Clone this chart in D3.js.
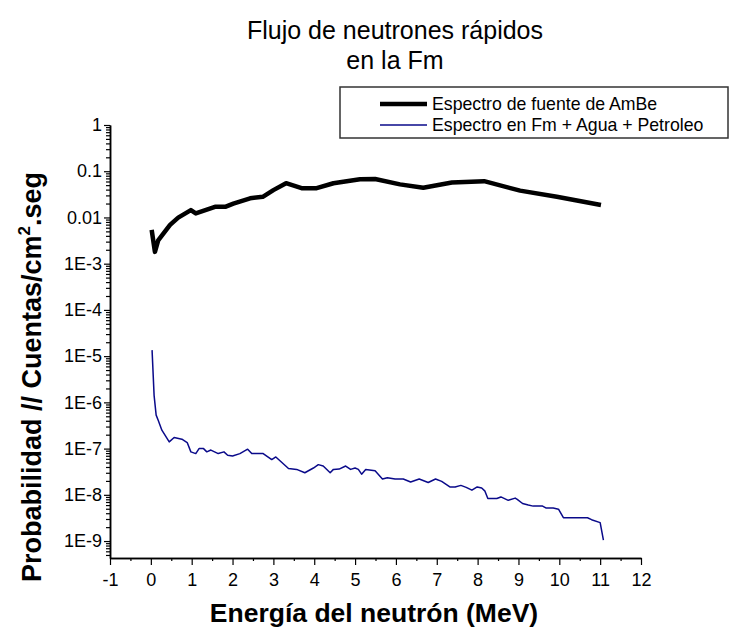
<!DOCTYPE html>
<html>
<head>
<meta charset="utf-8">
<script src="https://cdn.jsdelivr.net/npm/d3@7"></script>
<style>
  body { margin: 0; background: #fff; }
  svg { font-family: Arial, "Liberation Sans", sans-serif; }
</style>
</head>
<body>
<div id="chart"></div>
<script>
////////////////////////////////////////////////////////////// DATA //////////////////////////////////////////////////////////////
// AmBe source spectrum (energy MeV, probability)
var ambeE = [0.02, 0.10, 0.18, 0.47, 0.67, 0.98, 1.10, 1.57, 1.82, 2.02, 2.43, 2.74, 3.00, 3.31, 3.69, 4.06, 4.47, 5.12, 5.49, 6.10, 6.67, 7.37, 8.16, 9.04, 9.94, 11.02];
var ambeP = [0.0054, 0.0018, 0.0032, 0.0069, 0.0099, 0.0144, 0.0122, 0.017, 0.017, 0.020, 0.026, 0.028, 0.039, 0.055, 0.043, 0.043, 0.055, 0.067, 0.068, 0.052, 0.044, 0.057, 0.061, 0.038, 0.028, 0.0186];

// spectrum in Fm + Agua + Petroleo
var fmE = [0.03, 0.08, 0.13, 0.18, 0.27, 0.45, 0.57, 0.76, 0.89, 0.98, 1.10, 1.18, 1.29, 1.37, 1.47, 1.65, 1.79, 1.88, 2.00, 2.18,
           2.37, 2.47, 2.75, 2.96, 3.06, 3.37, 3.57, 3.77, 3.98, 4.10, 4.22, 4.39, 4.47, 4.61, 4.77, 4.89, 5.00, 5.08, 5.16, 5.26,
           5.49, 5.67, 5.79, 5.98, 6.18, 6.36, 6.57, 6.79, 6.97, 7.12, 7.32, 7.45, 7.59, 7.72, 7.86, 7.99, 8.10, 8.18, 8.25, 8.47,
           8.57, 8.75, 8.92, 8.97, 9.10, 9.24, 9.36, 9.59, 9.67, 9.85, 9.98, 10.10, 10.69, 10.79, 11.00, 11.08];
var fmP = [1.35e-5, 1.4e-6, 5.3e-7, 4.1e-7, 2.5e-7, 1.4e-7, 1.74e-7, 1.6e-7, 1.35e-7, 8.5e-8, 7.8e-8, 1.0e-7, 1.0e-7, 8.5e-8, 9.3e-8, 7.8e-8, 8.5e-8, 7.2e-8, 6.9e-8, 7.8e-8,
           9.7e-8, 7.8e-8, 7.8e-8, 5.8e-8, 6.6e-8, 3.7e-8, 3.55e-8, 3.0e-8, 3.8e-8, 4.5e-8, 4.2e-8, 3.0e-8, 3.55e-8, 3.6e-8, 4.2e-8, 3.55e-8, 3.8e-8, 3.55e-8, 2.8e-8, 3.55e-8,
           3.3e-8, 2.2e-8, 2.35e-8, 2.2e-8, 2.2e-8, 1.9e-8, 2.2e-8, 1.85e-8, 2.2e-8, 1.95e-8, 1.48e-8, 1.48e-8, 1.6e-8, 1.45e-8, 1.26e-8, 1.48e-8, 1.4e-8, 1.2e-8, 8.3e-9, 8.3e-9,
           9.0e-9, 7.6e-9, 8.5e-9, 8.0e-9, 6.5e-9, 6.0e-9, 5.7e-9, 5.7e-9, 5.2e-9, 5.2e-9, 4.9e-9, 3.2e-9, 3.2e-9, 2.9e-9, 2.5e-9, 1.05e-9];

var xTicks = [-1, 0, 1, 2, 3, 4, 5, 6, 7, 8, 9, 10, 11, 12];
var yTicks = [1, 0.1, 0.01, 1e-3, 1e-4, 1e-5, 1e-6, 1e-7, 1e-8, 1e-9];
var yTickLabels = ["1", "0.1", "0.01", "1E-3", "1E-4", "1E-5", "1E-6", "1E-7", "1E-8", "1E-9"];
var seriesNames = ["Espectro de fuente de AmBe", "Espectro en Fm + Agua + Petroleo"];

////////////////////////////////////////////////////////////// CHART //////////////////////////////////////////////////////////////
var w = 735, h = 632;
var plotLeft = 110, plotRight = 641, plotTop = 125, plotBottom = 558;
var yMin = 4.3e-10;
var fontFam = "Arial, 'Liberation Sans', sans-serif";

var svg = d3.select("#chart").append("svg")
  .attr("width", w)
  .attr("height", h);

var x = d3.scaleLinear().domain([-1, 12]).range([plotLeft, plotRight]);
var y = d3.scaleLog().domain([yMin, 1]).range([plotBottom, plotTop]);

// minor tick values
var xMinor = d3.range(-0.5, 12, 1);
var yMinor = [];
for (var k = -10; k <= -1; k++) {
  for (var m = 2; m <= 9; m++) {
    var v = m * Math.pow(10, k);
    if (v >= yMin && v < 1) yMinor.push(v);
  }
}

// X axis (minor + major in separate groups)
svg.append("g").attr("transform", "translate(0," + plotBottom + ")")
  .call(d3.axisBottom(x).tickValues(xMinor).tickSize(3).tickSizeOuter(0).tickFormat(""));
var gx = svg.append("g").attr("transform", "translate(0," + plotBottom + ")")
  .call(d3.axisBottom(x).tickValues(xTicks).tickSize(7).tickSizeOuter(0).tickPadding(8)
    .tickFormat(function(d) { return String(d); }));
gx.attr("font-size", 18).attr("font-family", fontFam);
gx.selectAll("text").attr("fill", "#000");

// Y axis
svg.append("g").attr("transform", "translate(" + plotLeft + ",0)")
  .call(d3.axisLeft(y).tickValues(yMinor).tickSize(4).tickSizeOuter(0).tickFormat(""));
var gy = svg.append("g").attr("transform", "translate(" + plotLeft + ",0)")
  .call(d3.axisLeft(y).tickValues(yTicks).tickSize(6).tickSizeOuter(0).tickPadding(2)
    .tickFormat(function(d, i) { return yTickLabels[i]; }));
gy.attr("font-size", 18).attr("font-family", fontFam);
gy.selectAll("text").attr("fill", "#000");

svg.selectAll(".domain").attr("stroke", "#000").attr("stroke-width", 1.5);
svg.selectAll(".tick line").attr("stroke", "#000").attr("stroke-width", 1.2);

// Lines
var line = d3.line()
  .x(function(d) { return x(d[0]); })
  .y(function(d) { return y(d[1]); });

svg.append("path")
  .datum(ambeE.map(function(e, i) { return [e, ambeP[i]]; }))
  .attr("d", line)
  .attr("fill", "none")
  .attr("stroke", "#000")
  .attr("stroke-width", 4.5)
  .attr("stroke-linejoin", "round");

svg.append("path")
  .datum(fmE.map(function(e, i) { return [e, fmP[i]]; }))
  .attr("d", line)
  .attr("fill", "none")
  .attr("stroke", "#0a0a8a")
  .attr("stroke-width", 1.5)
  .attr("stroke-linejoin", "round");

// Title
svg.append("text").attr("x", 395).attr("y", 39).attr("text-anchor", "middle")
  .attr("font-size", "25px").text("Flujo de neutrones rápidos");
svg.append("text").attr("x", 395).attr("y", 69).attr("text-anchor", "middle")
  .attr("font-size", "25px").text("en la Fm");

// Axis titles
svg.append("text").attr("x", 374).attr("y", 622).attr("text-anchor", "middle")
  .attr("font-size", "26.5px").attr("font-weight", "bold").text("Energía del neutrón (MeV)");

var yt = svg.append("text")
  .attr("transform", "translate(41,377) rotate(-90)")
  .attr("text-anchor", "middle")
  .attr("font-size", "27px").attr("font-weight", "bold");
yt.append("tspan").text("Probabilidad //  Cuentas/cm");
yt.append("tspan").attr("dy", -11).attr("font-size", "17px").text("2");
yt.append("tspan").attr("dy", 11).text(".seg");

// Legend
var lg = svg.append("g");
lg.append("rect").attr("x", 340).attr("y", 87).attr("width", 388).attr("height", 51)
  .attr("fill", "none").attr("stroke", "#333").attr("stroke-width", 1.5);
var legColors = ["#000", "#0a0a8a"], legWidths = [4.5, 1.5];
seriesNames.forEach(function(name, i) {
  var ly = 104 + i * 21;
  lg.append("line").attr("x1", 380).attr("x2", 427).attr("y1", ly).attr("y2", ly)
    .attr("stroke", legColors[i]).attr("stroke-width", legWidths[i]);
  lg.append("text").attr("x", 432).attr("y", ly + 6).attr("font-size", "17.7px").text(name);
});
</script>
</body>
</html>
